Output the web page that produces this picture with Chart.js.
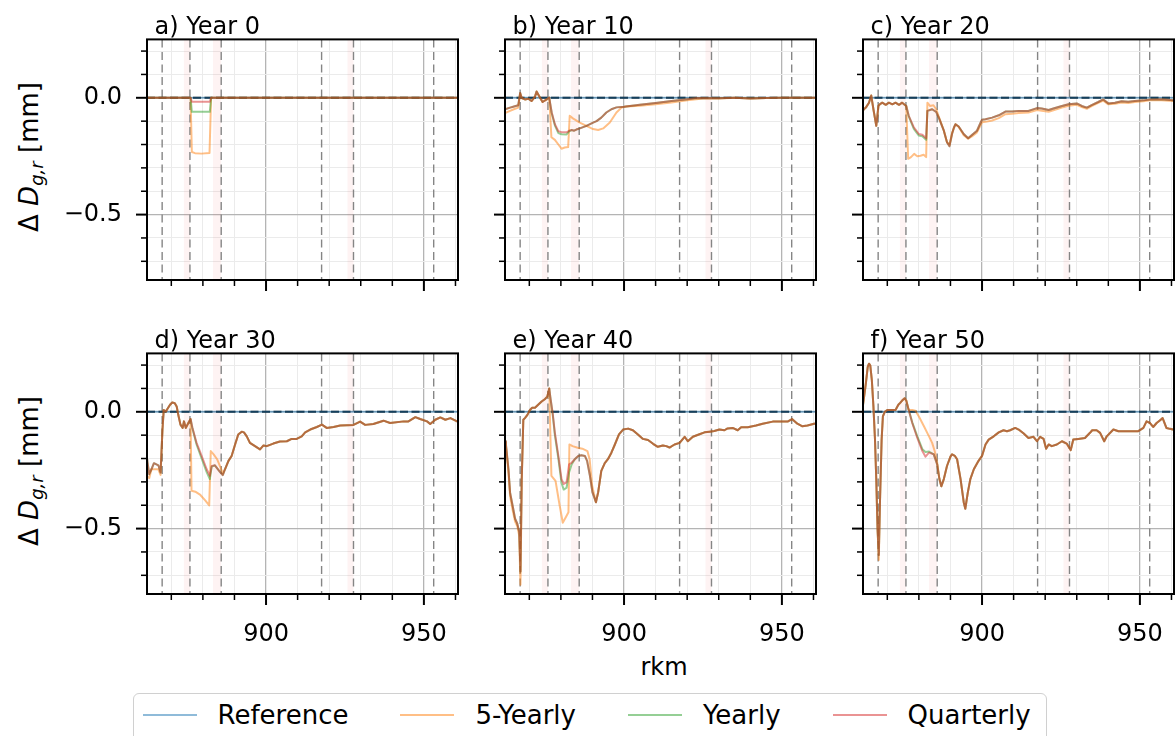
<!DOCTYPE html>
<html>
<head>
<meta charset="utf-8">
<script src="https://cdn.jsdelivr.net/npm/chart.js@4.4.1/dist/chart.umd.min.js"></script>
<style>
html, body { margin: 0; padding: 0; width: 1175px; height: 736px; overflow: hidden; background: #fff; font-family: 'DejaVu Sans', sans-serif; }
canvas { position: absolute; }
.ylab { position: absolute; font-size: 26px; white-space: nowrap; transform: translate(-50%, -50%) rotate(-90deg); }
.ylab sub { font-size: 18px; vertical-align: -5px; }
#xlab { position: absolute; left: 664px; top: 655px; transform: translateX(-50%); font-size: 24px; line-height: 24px; }
#legend { position: absolute; left: 133px; top: 693px; width: 914px; height: 56px; border: 1.5px solid #d0d0d0; border-radius: 6px; box-sizing: border-box; display: flex; align-items: center; padding: 0 0 12px 8.5px; font-size: 26px; white-space: nowrap; }
#legend .item { display: flex; align-items: center; margin-right: 52px; flex-shrink: 0; }
#legend .item:last-child { margin-right: 0; }
#legend .swatch { width: 54px; height: 2px; margin-right: 21px; }
</style>
</head>
<body>
<div class="ylab" style="left:30px; top:157px;">Δ&nbsp;<i>D</i><sub><i>g,r</i></sub> [mm]</div>
<div class="ylab" style="left:30px; top:471px;">Δ&nbsp;<i>D</i><sub><i>g,r</i></sub> [mm]</div>
<div id="xlab">rkm</div>
<div id="legend"></div>
<script>
// axis limits and tick labels
const rkmMin = 862.3, rkmMax = 960.8;
const yMin = -0.78, yMax = 0.25;
const xTickLabels = [900, 950];
const yTickLabels = [0, -0.5];

// river structures (dashed lines) and shaded reaches
const structures = [867.1, 875.9, 885.8, 917.6, 927.7, 953.1];
const bands = [[874.0, 875.9], [883.2, 885.8], [925.8, 927.7]];

const titles = ['a) Year 0', 'b) Year 10', 'c) Year 20', 'd) Year 30', 'e) Year 40', 'f) Year 50'];
const seriesNames = ['Reference', '5-Yearly', 'Yearly', 'Quarterly'];

const reference = [[862.3, 0], [960.8, 0]];

// Year 0: quarterly, then the parts where yearly / 5-yearly differ
const q0 = [[862.3, 0], [876.1, 0], [876.5, -0.017], [882.2, -0.017], [882.6, 0], [960.8, 0]];
const yr0 = [[[876.1, 0], [876.5, -0.06], [882.2, -0.06], [882.6, 0]]];
const fy0 = [[[876.1, 0], [876.5, -0.232], [877.5, -0.237], [879.5, -0.239], [882.1, -0.236], [882.6, 0]]];

// Year 10
const q1 = [[862.3, -0.049], [863.9, -0.042], [864.9, -0.038], [866.5, -0.032], [867.1, 0.021], [867.6, -0.001],
  [868.6, -0.007], [869.7, -0.004], [870.7, -0.014], [871.8, 0.005], [872.3, 0.027], [873.4, 0.0], [874.2, -0.018],
  [875.5, -0.007], [876.3, 0.001], [877.1, -0.063], [878.1, -0.113], [879.2, -0.143], [880.2, -0.147], [881.8, -0.148],
  [882.6, -0.141], [883.4, -0.138], [884.2, -0.141], [884.9, -0.136], [886.0, -0.131], [888.1, -0.12], [890.2, -0.106],
  [891.3, -0.1], [892.8, -0.085], [894.4, -0.063], [896.0, -0.049], [897.6, -0.041], [900, -0.038], [905, -0.03],
  [910, -0.022], [915, -0.014], [920, -0.006], [923, -0.001], [930, -0.002], [935, 0.0], [940, -0.003], [945, -0.001],
  [950, 0.0], [960.8, 0.0]];
const yr1 = [[[876.3, 0.001], [877.1, -0.066], [878.1, -0.118], [879.2, -0.151], [880.2, -0.156], [881.8, -0.157],
  [882.6, -0.144], [883.4, -0.138]]];
const fy1 = [[[862.3, -0.066], [863.9, -0.056], [864.9, -0.05], [866.5, -0.042], [867.1, 0.018]],
  [[876.3, 0.001], [877.0, -0.169], [878.1, -0.18], [879.2, -0.2], [880.2, -0.218], [881.2, -0.213], [882.3, -0.211],
  [882.8, -0.077], [883.8, -0.088], [886.0, -0.106], [888.1, -0.12], [890.2, -0.134], [891.8, -0.138], [893.4, -0.131],
  [895.5, -0.106], [897.6, -0.063], [899.2, -0.042], [900.7, -0.037], [905, -0.034], [910, -0.028], [915, -0.02],
  [920, -0.011], [925, -0.003], [930, -0.003]]];

// Year 20
const q2 = [[862.3, -0.05], [862.6, -0.049], [863.2, -0.042], [864.2, -0.021], [864.9, 0.01], [865.6, -0.049],
  [866.5, -0.12], [867.2, -0.035], [867.6, -0.028], [868.4, -0.021], [869.5, -0.03], [870.5, -0.021], [871.6, -0.028],
  [872.6, -0.021], [873.7, -0.03], [874.7, -0.021], [876.0, -0.035], [876.8, -0.077], [878.4, -0.127], [880.0, -0.155],
  [881.1, -0.158], [882.3, -0.173], [882.7, -0.056], [884.2, -0.049], [885.5, -0.061], [886.3, -0.085], [887.9, -0.141],
  [888.9, -0.19], [889.7, -0.207], [890.5, -0.155], [891.1, -0.127], [891.6, -0.113], [892.6, -0.123], [894.2, -0.155],
  [895.6, -0.173], [896.8, -0.159], [898.4, -0.141], [899.5, -0.108], [900.0, -0.094], [901.1, -0.092], [903.2, -0.085],
  [905.3, -0.075], [907.4, -0.059], [909.5, -0.059], [911.6, -0.056], [914.7, -0.056], [917.4, -0.044], [918.9, -0.046],
  [921.1, -0.052], [922.6, -0.046], [925.3, -0.035], [927.4, -0.028], [930.0, -0.024], [931.6, -0.035], [933.2, -0.042],
  [934.7, -0.031], [936.8, -0.018], [938.4, -0.007], [940.0, -0.024], [942.1, -0.021], [944.2, -0.015], [946.3, -0.017],
  [948.4, -0.014], [951.1, -0.011], [953.2, -0.007], [954.7, -0.007], [956.8, -0.006], [960.5, -0.01], [960.8, -0.01]];
const yr2 = [[[876.0, -0.035], [876.8, -0.08], [878.4, -0.133], [880.0, -0.162], [881.1, -0.165], [882.3, -0.18], [882.7, -0.056]]];
const fy2 = [[[876.0, -0.035], [876.6, -0.261], [877.5, -0.254], [878.5, -0.24], [879.5, -0.25], [880.5, -0.248],
  [881.5, -0.244], [882.3, -0.254], [882.7, -0.021], [883.5, -0.035], [884.6, -0.032], [885.5, -0.049], [886.3, -0.08],
  [887.9, -0.14], [888.9, -0.19], [889.7, -0.2], [890.5, -0.15], [891.6, -0.113], [892.6, -0.125], [894.2, -0.16],
  [895.6, -0.175], [896.8, -0.165], [898.4, -0.148], [900, -0.105], [901.1, -0.103], [903.2, -0.097], [905.3, -0.087],
  [907.4, -0.07], [909.5, -0.068], [911.6, -0.065], [914.7, -0.063], [917.4, -0.052], [918.9, -0.055], [921.1, -0.06],
  [922.6, -0.054], [925.3, -0.042], [927.4, -0.034], [930, -0.03], [931.6, -0.04], [933.2, -0.047], [934.7, -0.036],
  [936.8, -0.022], [938.4, -0.012], [940, -0.028], [942.1, -0.026], [944.2, -0.02], [946.3, -0.022], [948.4, -0.018],
  [951.1, -0.015], [953.2, -0.011], [954.7, -0.011], [956.8, -0.01], [960.5, -0.014], [960.8, -0.014]]];

// Year 30
const q3 = [[862.3, -0.205], [862.4, -0.21], [863.0, -0.267], [863.7, -0.246], [864.5, -0.22], [865.9, -0.229], [866.6, -0.26],
  [867.2, -0.076], [867.6, 0.008], [868.3, 0.001], [868.7, 0.011], [869.6, 0.03], [870.3, 0.04], [871.1, 0.037],
  [871.7, 0.023], [872.2, -0.013], [872.9, -0.055], [873.6, -0.069], [874.0, -0.041], [874.6, -0.069], [875.4, -0.048],
  [876.1, -0.031], [876.7, -0.069], [878.0, -0.133], [879.6, -0.189], [881.2, -0.246], [882.2, -0.274], [882.8, -0.232],
  [883.8, -0.229], [885.4, -0.257], [886.3, -0.271], [887.0, -0.246], [888.1, -0.21], [889.1, -0.189], [890.2, -0.14],
  [891.2, -0.097], [892.3, -0.085], [893.0, -0.088], [893.9, -0.105], [894.9, -0.133], [896.5, -0.147], [898.1, -0.161],
  [899.2, -0.144], [900.2, -0.147], [902.3, -0.136], [904.4, -0.127], [906.6, -0.126], [908.1, -0.116], [909.7, -0.116],
  [911.3, -0.105], [912.4, -0.088], [914.0, -0.076], [916.1, -0.065], [917.7, -0.055], [919.2, -0.069], [921.4, -0.065],
  [923.5, -0.059], [927.7, -0.056], [929.8, -0.042], [931.4, -0.056], [934.0, -0.052], [937.2, -0.038], [939.3, -0.048],
  [943.6, -0.041], [945.1, -0.041], [947.3, -0.023], [948.8, -0.031], [951.0, -0.041], [952.0, -0.052], [953.6, -0.034],
  [955.2, -0.024], [956.8, -0.034], [958.4, -0.027], [960.5, -0.041], [960.8, -0.043]];
const yr3 = [[[876.1, -0.031], [876.7, -0.072], [878.0, -0.14], [879.6, -0.2], [881.2, -0.258], [882.2, -0.288], [882.8, -0.235]]];
const fy3 = [[[862.3, -0.275], [863.0, -0.284], [863.7, -0.246], [864.5, -0.246], [865.9, -0.246], [866.6, -0.27], [867.2, -0.076]],
  [[876.1, -0.031], [876.4, -0.338], [877.6, -0.342], [879.2, -0.356], [880.8, -0.38], [882.0, -0.401], [882.5, -0.168],
  [883.4, -0.182], [884.5, -0.203], [885.6, -0.239], [886.3, -0.265]]];

// Year 40
const q4 = [[862.3, -0.126], [862.6, -0.14], [863.4, -0.246], [863.9, -0.345], [864.7, -0.401], [865.5, -0.458],
  [866.2, -0.479], [866.8, -0.514], [867.2, -0.684], [867.6, -0.288], [868.1, -0.034], [868.6, -0.027], [869.4, -0.013],
  [870.2, 0.008], [870.9, 0.017], [871.8, 0.017], [872.8, 0.03], [873.9, 0.044], [874.9, 0.054], [875.7, 0.065],
  [876.3, 0.1], [876.7, 0.058], [877.4, -0.006], [878.1, -0.09], [879.2, -0.189], [880.2, -0.288], [880.9, -0.309],
  [881.8, -0.302], [882.6, -0.225], [883.4, -0.218], [884.4, -0.203], [885.5, -0.189], [886.5, -0.186], [887.6, -0.189],
  [888.3, -0.21], [889.2, -0.274], [890.0, -0.345], [891.1, -0.387], [891.8, -0.345], [892.8, -0.253], [893.9, -0.22],
  [894.9, -0.203], [896.0, -0.175], [897.1, -0.14], [898.4, -0.097], [899.7, -0.076], [901.3, -0.072], [902.8, -0.079],
  [904.4, -0.097], [906.0, -0.116], [907.6, -0.121], [909.2, -0.137], [910.7, -0.15], [912.3, -0.144], [913.4, -0.147],
  [914.4, -0.153], [916.0, -0.14], [917.6, -0.133], [919.2, -0.107], [920.2, -0.126], [921.8, -0.107], [923.9, -0.096],
  [925.5, -0.088], [927.1, -0.085], [928.6, -0.082], [930.2, -0.076], [931.8, -0.079], [932.8, -0.071], [934.4, -0.069],
  [936.0, -0.079], [937.1, -0.066], [939.2, -0.066], [941.8, -0.059], [943.9, -0.051], [947.1, -0.042], [949.2, -0.042],
  [951.8, -0.042], [953.2, -0.031], [954.9, -0.051], [956.5, -0.062], [958.1, -0.059], [960.2, -0.051], [960.8, -0.05]];
const yr4 = [[[876.7, 0.058], [877.4, -0.01], [878.1, -0.1], [879.2, -0.2], [880.2, -0.305], [880.9, -0.333],
  [881.8, -0.325], [882.6, -0.26], [883.4, -0.225]]];
const fy4 = [[[862.3, -0.13], [862.6, -0.148], [863.4, -0.26], [863.9, -0.36], [864.7, -0.42], [865.5, -0.47],
  [866.2, -0.49], [866.8, -0.53], [867.2, -0.74], [867.6, -0.3], [868.1, -0.034]],
  [[876.3, 0.1], [877.0, -0.274], [878.3, -0.296], [879.6, -0.4], [880.6, -0.475], [881.6, -0.45], [882.4, -0.43],
  [882.7, -0.14], [883.7, -0.147], [885.3, -0.154], [886.8, -0.158], [888.4, -0.168], [889.1, -0.203], [889.9, -0.316],
  [891.1, -0.387]]];

// Year 50
const q5 = [[862.3, 0.03], [863.2, 0.121], [863.8, 0.192], [864.2, 0.206], [864.6, 0.199], [865.1, 0.136], [865.6, 0.023],
  [866.1, -0.119], [866.5, -0.288], [866.9, -0.5], [867.3, -0.613], [867.7, -0.373], [868.2, -0.119], [868.6, -0.02],
  [869.2, 0.0], [870.0, 0.008], [871.6, 0.008], [872.6, 0.008], [873.5, 0.03], [874.0, 0.037], [874.7, 0.048],
  [875.5, 0.058], [876.0, 0.048], [876.6, 0.016], [877.9, -0.048], [879.5, -0.112], [881.1, -0.168], [882.1, -0.192],
  [883.2, -0.175], [884.7, -0.182], [885.8, -0.225], [886.5, -0.288], [887.1, -0.319], [887.9, -0.288], [888.9, -0.232],
  [890.0, -0.192], [890.5, -0.182], [891.4, -0.189], [892.1, -0.203], [893.2, -0.288], [894.2, -0.387], [894.7, -0.415],
  [895.5, -0.345], [896.3, -0.288], [897.4, -0.246], [898.9, -0.21], [900.0, -0.189], [901.1, -0.14], [902.1, -0.119],
  [903.7, -0.105], [905.3, -0.088], [906.8, -0.079], [907.9, -0.083], [908.9, -0.079], [910.5, -0.069], [911.6, -0.076],
  [913.2, -0.093], [914.7, -0.112], [916.3, -0.107], [917.4, -0.126], [918.4, -0.107], [919.5, -0.116], [920.3, -0.158],
  [921.1, -0.14], [922.1, -0.147], [923.7, -0.14], [925.3, -0.126], [926.8, -0.136], [928.1, -0.164], [928.9, -0.119],
  [930.5, -0.116], [932.6, -0.112], [934.2, -0.09], [934.9, -0.079], [936.3, -0.079], [937.4, -0.09], [938.7, -0.126],
  [939.5, -0.105], [941.6, -0.076], [943.2, -0.083], [945.3, -0.083], [947.4, -0.083], [949.5, -0.083], [951.1, -0.069],
  [952.1, -0.041], [953.2, -0.048], [954.2, -0.065], [955.3, -0.048], [956.3, -0.037], [957.2, -0.027], [958.4, -0.069],
  [959.5, -0.073], [960.5, -0.076], [960.8, -0.076]];
const yr5 = [[[876.6, 0.016], [877.9, -0.045], [879.5, -0.105], [881.1, -0.16], [882.1, -0.172], [883.2, -0.17], [884.7, -0.182]]];
const fy5 = [[[866.9, -0.5], [867.3, -0.634], [867.7, -0.373]],
  [[876.0, 0.048], [876.8, 0.008], [877.9, 0.008], [878.9, 0.005], [880.0, -0.02], [881.6, -0.062], [883.2, -0.105],
  [884.2, -0.133], [885.0, -0.168], [885.8, -0.218], [886.5, -0.288]]];

const colors = ['rgba(31,119,180,0.5)', 'rgba(255,127,14,0.5)', 'rgba(44,160,44,0.5)', 'rgba(214,39,40,0.5)'];

// replace parts of the base curve by the segments of another series
function merge(base, segs) {
  let out = base;
  segs.forEach(seg => {
    const lo = seg[0][0], hi = seg[seg.length - 1][0];
    out = out.filter(p => p[0] < lo).concat(seg, out.filter(p => p[0] > hi));
  });
  return out;
}

const panelData = [[q0, yr0, fy0], [q1, yr1, fy1], [q2, yr2, fy2], [q3, yr3, fy3], [q4, yr4, fy4], [q5, yr5, fy5]];
const colLeft = [147, 505, 863], rowTop = [35, 349];
const pw = 311, ph = 245, padL = 90, padT = 35, padR = 45, padB = 60;

const isMajorX = v => xTickLabels.includes(v);
const isMajorY = v => yTickLabels.some(t => Math.abs(t - v) < 1e-9);

const decor = {
  id: 'decor',
  beforeDatasetsDraw(chart) {
    const { ctx, chartArea: a, scales: { x } } = chart;
    ctx.save();
    ctx.beginPath();
    ctx.rect(a.left, a.top, a.right - a.left, a.bottom - a.top);
    ctx.clip();
    ctx.fillStyle = 'rgba(240,80,80,0.07)';
    bands.forEach(b => {
      const x0 = x.getPixelForValue(b[0]), x1 = x.getPixelForValue(b[1]);
      ctx.fillRect(x0, a.top, x1 - x0, a.bottom - a.top);
    });
    ctx.strokeStyle = '#858585';
    ctx.lineWidth = 1.4;
    ctx.setLineDash([8, 4.5]);
    structures.forEach(s => {
      const px = x.getPixelForValue(s);
      ctx.beginPath();
      ctx.moveTo(px, a.top);
      ctx.lineTo(px, a.bottom);
      ctx.stroke();
    });
    ctx.restore();
  },
  afterDraw(chart, args, opts) {
    const { ctx, chartArea: a, scales: { x, y } } = chart;
    ctx.save();
    ctx.strokeStyle = '#000';
    x.ticks.forEach(t => {
      const px = x.getPixelForValue(t.value), major = isMajorX(t.value);
      ctx.lineWidth = major ? 2 : 1.5;
      ctx.beginPath();
      ctx.moveTo(px, a.bottom);
      ctx.lineTo(px, a.bottom + (major ? 11 : 6));
      ctx.stroke();
    });
    y.ticks.forEach(t => {
      const py = y.getPixelForValue(t.value), major = isMajorY(t.value);
      ctx.lineWidth = major ? 2 : 1.5;
      ctx.beginPath();
      ctx.moveTo(a.left, py);
      ctx.lineTo(a.left - (major ? 11 : 6), py);
      ctx.stroke();
    });
    ctx.lineWidth = 2;
    ctx.strokeRect(a.left, a.top, a.right - a.left, a.bottom - a.top);
    ctx.fillStyle = '#000';
    ctx.font = '24px "DejaVu Sans"';
    ctx.textBaseline = 'alphabetic';
    ctx.textAlign = 'left';
    ctx.fillText(opts.title, a.left + 7.5, a.top - 5);
    ctx.restore();
  }
};

Chart.defaults.font.family = '"DejaVu Sans"';
Chart.defaults.font.size = 24;
Chart.defaults.color = '#000';

panelData.forEach((pd, i) => {
  const col = i % 3, row = Math.floor(i / 3);
  const canvas = document.createElement('canvas');
  canvas.width = pw + padL + padR;
  canvas.height = ph + padT + padB;
  canvas.style.left = (colLeft[col] - padL) + 'px';
  canvas.style.top = (rowTop[row] - padT) + 'px';
  document.body.appendChild(canvas);
  const [q, yr, fy] = pd;
  const line = (label, data, color, extra) => Object.assign({
    label, data, borderColor: color, borderWidth: 2, pointRadius: 0, tension: 0,
    borderJoinStyle: 'round', fill: false
  }, extra || {});
  new Chart(canvas, {
    type: 'line',
    data: {
      datasets: [
        line(seriesNames[3], q, colors[3]),
        line(seriesNames[2], merge(q, yr), colors[2]),
        line(seriesNames[1], merge(q, fy), colors[1]),
        line(seriesNames[0], reference, colors[0]),
        line('zero', reference, 'rgba(0,0,0,0.95)', { borderDash: [8, 3.5], borderWidth: 2 })
      ]
    },
    options: {
      responsive: false,
      animation: false,
      events: [],
      layout: { padding: { left: 0, top: padT, right: padR, bottom: 0 } },
      plugins: { legend: { display: false }, tooltip: { enabled: false }, decor: { title: titles[i] } },
      scales: {
        x: {
          type: 'linear', min: rkmMin, max: rkmMax,
          afterFit: s => { s.height = padB; },
          border: { display: false },
          grid: {
            drawTicks: false,
            color: c => (c.tick && isMajorX(c.tick.value)) ? '#b4b4b4' : '#ebebeb',
            lineWidth: c => (c.tick && isMajorX(c.tick.value)) ? 1.3 : 1
          },
          ticks: {
            stepSize: 10, includeBounds: false, autoSkip: false, maxRotation: 0, minRotation: 0, padding: 26,
            callback: v => (row === 1 && isMajorX(v)) ? String(v) : ''
          }
        },
        y: {
          type: 'linear', min: yMin, max: yMax,
          afterFit: s => { s.width = padL; },
          border: { display: false },
          grid: {
            drawTicks: false,
            color: c => (c.tick && isMajorY(c.tick.value)) ? '#b4b4b4' : '#ebebeb',
            lineWidth: c => (c.tick && isMajorY(c.tick.value)) ? 1.3 : 1
          },
          ticks: {
            stepSize: 0.1, includeBounds: false, autoSkip: false, padding: 25,
            callback: v => (col === 0 && isMajorY(v)) ? (v === 0 ? '0.0' : '\u22120.5') : ''
          }
        }
      }
    },
    plugins: [decor]
  });
});

// legend
const legend = document.getElementById('legend');
seriesNames.forEach((name, k) => {
  const item = document.createElement('div');
  item.className = 'item';
  item.innerHTML = '<span class="swatch" style="background:' + colors[k] + '"></span><span>' + name + '</span>';
  legend.appendChild(item);
});
</script>
</body>
</html>
